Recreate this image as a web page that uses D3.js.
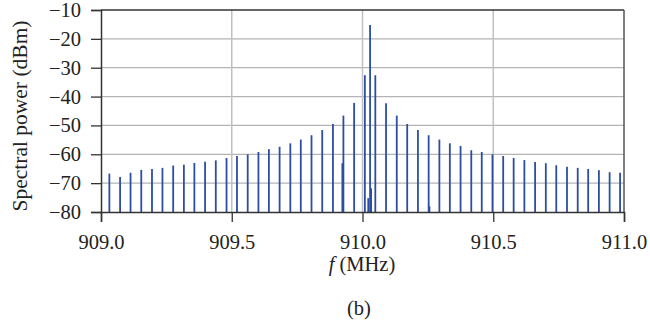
<!DOCTYPE html>
<html>
<head>
<meta charset="utf-8">
<script src="https://cdn.jsdelivr.net/npm/d3@7"></script>
<style>
  body { margin: 0; background: #fff; }
  svg text { font-family: "Liberation Serif", "Times New Roman", serif; fill: #222; }
</style>
</head>
<body>
<svg width="650" height="328"></svg>
<script>
// lower sidebands, read left to right (MHz / dBm)
var lowerFreqs = [909.032, 909.073, 909.113, 909.154, 909.195, 909.235, 909.276, 909.317,
  909.357, 909.398, 909.439, 909.480, 909.520, 909.561, 909.602, 909.642, 909.683,
  909.724, 909.764, 909.805, 909.846, 909.887, 909.927, 909.968, 910.009];
var lowerLevels = [-66.7, -67.9, -66.4, -65.4, -65.1, -64.7, -63.9, -63.6,
  -63.0, -62.6, -62.1, -61.3, -60.6, -60.0, -59.2, -58.2, -57.4,
  -56.2, -54.9, -53.4, -51.6, -49.5, -46.6, -42.2, -32.6];

var carrierFreq = [910.029];
var carrierLevel = [-15.2];

// upper sidebands
var upperFreqs = [910.049, 910.090, 910.131, 910.171, 910.212, 910.253, 910.294, 910.334,
  910.375, 910.416, 910.456, 910.497, 910.538, 910.578, 910.619, 910.660, 910.701,
  910.741, 910.782, 910.823, 910.863, 910.904, 910.945, 910.985];
var upperLevels = [-32.6, -42.3, -46.6, -49.5, -51.6, -53.4, -54.9, -56.2,
  -57.1, -58.6, -59.2, -60.0, -60.6, -61.3, -62.0, -62.7, -63.1,
  -63.8, -64.3, -64.7, -65.1, -65.5, -66.2, -66.4];

// small spurs
var spurFreqs = [909.923, 910.022, 910.033, 910.256];
var spurLevels = [-63.1, -75.2, -71.8, -78.0];

var xTicks = [909.0, 909.5, 910.0, 910.5, 911.0];
var yTicks = [-80, -70, -60, -50, -40, -30, -20, -10];

var svg = d3.select("svg");
var margin = {top: 10, right: 26, bottom: 116, left: 101};
var W = 650 - margin.left - margin.right;
var H = 328 - margin.top - margin.bottom;

var g = svg.append("g").attr("transform", "translate(" + margin.left + "," + margin.top + ")");

var x = d3.scaleLinear().domain([909, 911]).range([0, W]);
var y = d3.scaleLinear().domain([-80, -10]).range([H, 0]);

// grid
g.selectAll(".hg").data(yTicks.slice(1, -1)).enter().append("line")
  .attr("x1", 0).attr("x2", W)
  .attr("y1", function(d) { return y(d); }).attr("y2", function(d) { return y(d); })
  .attr("stroke", "#b4b4b4").attr("stroke-width", 1.3);
g.selectAll(".vg").data(xTicks.slice(1, -1)).enter().append("line")
  .attr("x1", function(d) { return x(d); }).attr("x2", function(d) { return x(d); })
  .attr("y1", 0).attr("y2", H)
  .attr("stroke", "#c0c0c0").attr("stroke-width", 1.5);

var lines = [];
lowerFreqs.forEach(function(f, i) { lines.push([f, lowerLevels[i]]); });
carrierFreq.forEach(function(f, i) { lines.push([f, carrierLevel[i]]); });
upperFreqs.forEach(function(f, i) { lines.push([f, upperLevels[i]]); });
spurFreqs.forEach(function(f, i) { lines.push([f, spurLevels[i]]); });

g.selectAll(".sp").data(lines).enter().append("line")
  .attr("x1", function(d) { return x(d[0]); }).attr("x2", function(d) { return x(d[0]); })
  .attr("y1", y(-80)).attr("y2", function(d) { return y(d[1]); })
  .attr("stroke", "#2b4ea3").attr("stroke-width", 1.8);

// frame
g.append("line").attr("x1", 0).attr("x2", W).attr("y1", 0).attr("y2", 0)
  .attr("stroke", "#333").attr("stroke-width", 1.5);
g.append("line").attr("x1", W).attr("x2", W).attr("y1", 0).attr("y2", H)
  .attr("stroke", "#555").attr("stroke-width", 1.5);

var fmt = d3.format(".1f");
var xa = g.append("g").attr("transform", "translate(0," + H + ")")
  .call(d3.axisBottom(x).tickValues(xTicks).tickFormat(fmt).tickSize(10).tickPadding(12));
var ya = g.append("g")
  .call(d3.axisLeft(y).tickValues(yTicks).tickFormat(d3.format("d")).tickSize(10).tickPadding(10));

[xa, ya].forEach(function(a) {
  a.select(".domain").attr("stroke", "#333").attr("stroke-width", 1.5);
  a.selectAll(".tick line").attr("stroke", "#333").attr("stroke-width", 1.3);
  a.selectAll("text").attr("font-size", "20.5px").attr("fill", "#222");
});

// labels
var xl = svg.append("text").attr("x", 362).attr("y", 271).attr("text-anchor", "middle")
  .attr("font-size", "20.5px");
xl.append("tspan").attr("font-style", "italic").text("f");
xl.append("tspan").text(" (MHz)");

svg.append("text").attr("transform", "translate(27," + 116 + ") rotate(-90)")
  .attr("text-anchor", "middle").attr("font-size", "21.5px")
  .text("Spectral power (dBm)");

svg.append("text").attr("x", 359).attr("y", 315).attr("text-anchor", "middle")
  .attr("font-size", "20.5px").text("(b)");
</script>
</body>
</html>
